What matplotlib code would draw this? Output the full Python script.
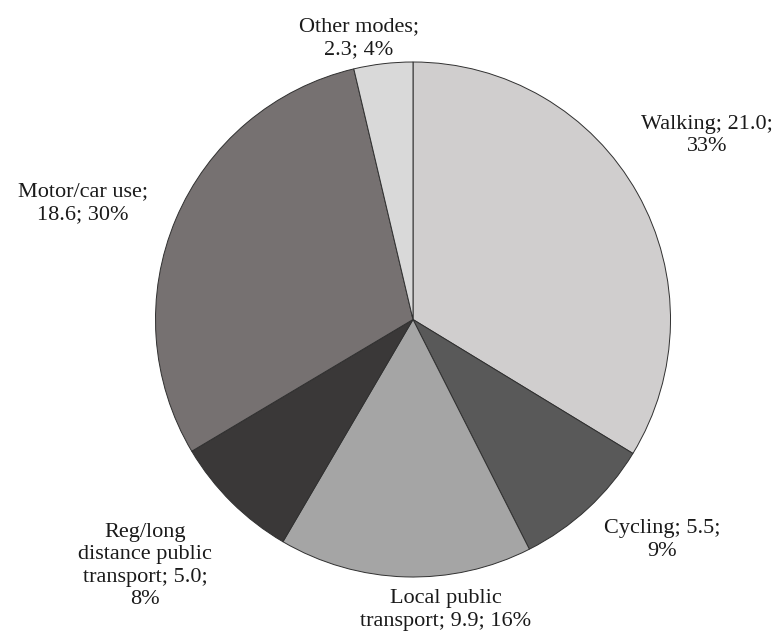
import matplotlib
matplotlib.use("Agg")
import matplotlib.pyplot as plt

modes = ["Walking", "Cycling", "Local public\ntransport", "Reg/long\ndistance public\ntransport",
         "Motor/car use", "Other modes"]
values = [21.0, 5.5, 9.9, 5.0, 18.6, 2.3]
shares = [33, 9, 16, 8, 30, 4]
label_text = ["Walking; 21.0;\n33%",
              "Cycling; 5.5;\n9%",
              "Local public\ntransport; 9.9; 16%",
              "Reg/long\ndistance public\ntransport; 5.0;\n8%",
              "Motor/car use;\n18.6; 30%",
              "Other modes;\n2.3; 4%"]
colors = ["#d0cece", "#595959", "#a5a5a5", "#3a3838", "#767171", "#d9d9d9"]

# label centres, in units of the pie radius
label_pos = [(1.142, 0.715), (0.967, -0.856), (0.128, -1.128),
             (-1.041, -0.957), (-1.282, 0.452), (-0.21, 1.092)]

plt.rcParams["font.family"] = ["Liberation Serif", "DejaVu Serif"]

fig = plt.figure(figsize=(7.74, 6.35), dpi=100)
cx, cy, r = 413, 319.5, 257.5
ax = fig.add_axes([(cx - r) / 774, (635 - cy - r) / 635, 2 * r / 774, 2 * r / 635])

ax.pie(values, colors=colors, startangle=90, counterclock=False, radius=1,
       wedgeprops=dict(edgecolor="#303030", linewidth=0.7))
ax.set_xlim(-1, 1)
ax.set_ylim(-1, 1)
ax.set_aspect("equal")
ax.axis("off")

for txt, (x, y) in zip(label_text, label_pos):
    ax.text(x, y, txt, ha="center", va="center", fontsize=16, color="#1a1a1a",
            linespacing=1.25, multialignment="center")

fig.savefig("out.png", dpi=100, facecolor="white")
